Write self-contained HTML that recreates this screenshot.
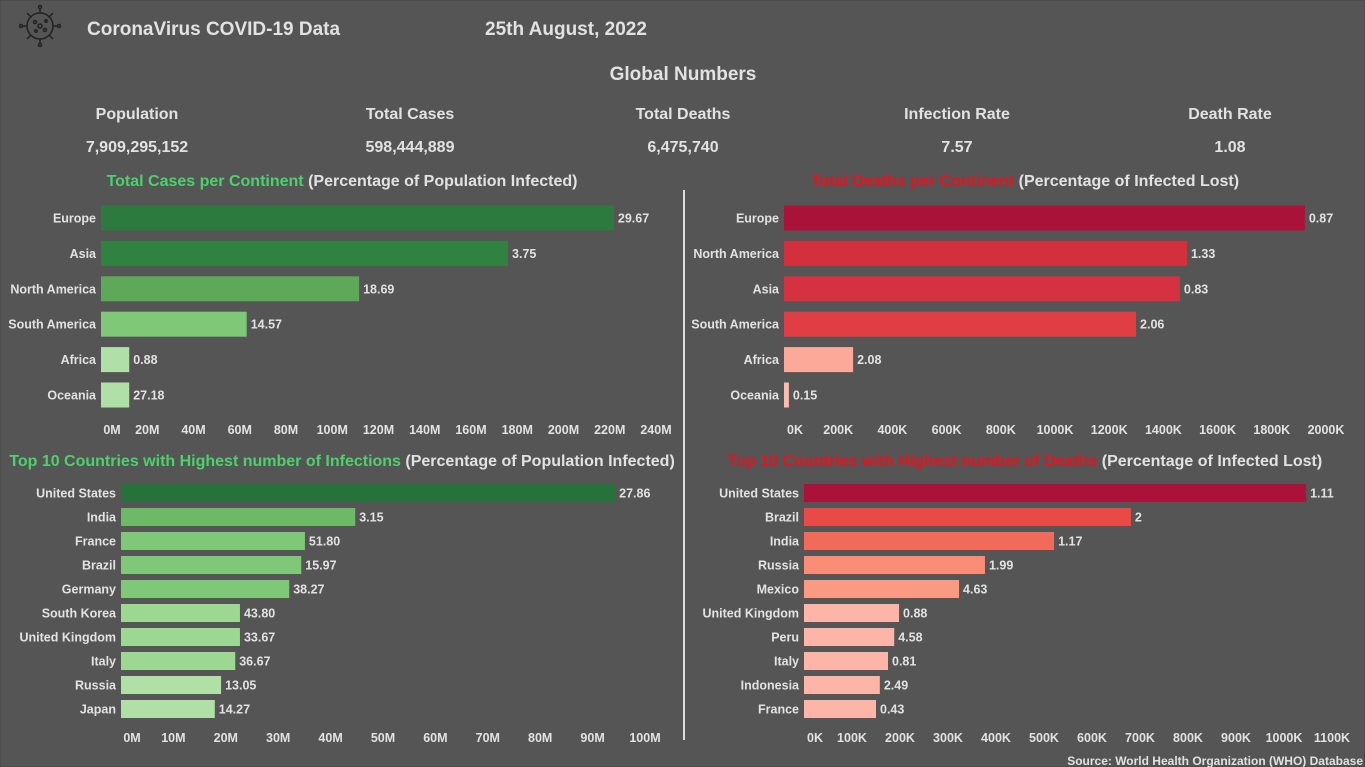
<!DOCTYPE html>
<html><head><meta charset="utf-8"><style>
html,body{margin:0;padding:0;background:#555;}
body{width:1365px;height:767px;overflow:hidden;font-family:"Liberation Sans",sans-serif;}
svg{display:block}
text{font-family:"Liberation Sans",sans-serif;font-weight:bold;fill:#e2e2e2}
</style></head><body>
<svg id="s" width="1365" height="767" xmlns="http://www.w3.org/2000/svg">
<rect x="0" y="0" width="1365" height="767" fill="#555" stroke="#444"/>
<g stroke="#222" fill="none" stroke-width="1.5">
<circle cx="40" cy="26" r="13"/><circle cx="40" cy="26" r="2"/><circle cx="35" cy="22" r="1.5"/><circle cx="45" cy="30" r="1.5"/><circle cx="36" cy="31" r="1.2"/><circle cx="46" cy="21" r="1.2"/>
<path d="M40 13v-5M40 39v5M27 26h-5M53 26h5M31 17l-4-4M49 35l4 4M49 17l4-4M31 35l-4 4"/>
<circle cx="40" cy="7" r="1.5"/><circle cx="40" cy="45" r="1.5"/><circle cx="21" cy="26" r="1.5"/><circle cx="59" cy="26" r="1.5"/>
</g>
<text x="87" y="35" font-size="19">CoronaVirus COVID-19 Data</text>
<text x="485" y="35" font-size="19">25th August, 2022</text>
<text x="683" y="80" font-size="19" text-anchor="middle">Global Numbers</text>
<g id="kpis"></g>
<line x1="684" y1="190" x2="684" y2="740" stroke="#ddd" stroke-width="2"/>
<text x="1363" y="765" font-size="12" text-anchor="end">Source: World Health Organization (WHO) Database</text>
<g id="charts"></g>
</svg>
<script>
const kpiLabels=["Population","Total Cases","Total Deaths","Infection Rate","Death Rate"];
const kpiValues=["7,909,295,152","598,444,889","6,475,740","7.57","1.08"];
const c1Cats=["Europe","Asia","North America","South America","Africa","Oceania"];
const c1Vals=[221.8,176,111.6,63,12.2,12.2];
const c1Labels=["29.67","3.75","18.69","14.57","0.88","27.18"];
const c1Ticks=[0,20,40,60,80,100,120,140,160,180,200,220,240];
const c2Cats=["Europe","North America","Asia","South America","Africa","Oceania"];
const c2Vals=[1922,1487,1461,1299,255,18];
const c2Labels=["0.87","1.33","0.83","2.06","2.08","0.15"];
const c2Ticks=[0,200,400,600,800,1000,1200,1400,1600,1800,2000];
const c3Cats=["United States","India","France","Brazil","Germany","South Korea","United Kingdom","Italy","Russia","Japan"];
const c3Vals=[94.3,44.7,35.1,34.4,32.1,22.7,22.7,21.8,19.1,17.9];
const c3Labels=["27.86","3.15","51.80","15.97","38.27","43.80","33.67","36.67","13.05","14.27"];
const c3Ticks=[0,10,20,30,40,50,60,70,80,90,100];
const c4Cats=["United States","Brazil","India","Russia","Mexico","United Kingdom","Peru","Italy","Indonesia","France"];
const c4Vals=[1046,681,521,377,323,198,188,175,158,150];
const c4Labels=["1.11","2","1.17","1.99","4.63","0.88","4.58","0.81","2.49","0.43"];
const c4Ticks=[0,100,200,300,400,500,600,700,800,900,1000,1100];

const NS="http://www.w3.org/2000/svg";
function el(p,tag,attrs,txt){const e=document.createElementNS(NS,tag);for(const k in attrs)e.setAttribute(k,attrs[k]);if(txt!==undefined)e.textContent=txt;p.appendChild(e);return e;}
const kp=document.getElementById('kpis');
const kx=[137,410,683,957,1230];
kpiLabels.forEach((l,i)=>{
 const a=el(kp,'text',{x:kx[i],y:119,'font-size':16,'text-anchor':'middle'},l);
 
 
 const b=el(kp,'text',{x:kx[i],y:152,'font-size':16,'text-anchor':'middle'},kpiValues[i]);
 
 
});
const root=document.getElementById('charts');
function chart(cfg){
 const g=el(root,'g',{});
 
 
 const t=el(g,'text',{x:cfg.titleX,y:cfg.titleY,'font-size':16,'text-anchor':'middle'});
 el(t,'tspan',{fill:cfg.titleColor,style:'fill:'+cfg.titleColor},cfg.title1);
 el(t,'tspan',{},cfg.title2);
 
 
 const sx=v=>cfg.x0+(v-cfg.d0)/(cfg.d1-cfg.d0)*(cfg.x1-cfg.x0);
 const sy=i=>cfg.y0+i*cfg.step;
 cfg.cats.forEach((c,i)=>{
  const y=sy(i);
  const l=el(g,'text',{x:cfg.x0-5,y:y+4.5,'font-size':12.5,'text-anchor':'end'},c);
  
  
  const w=Math.max(0,sx(cfg.vals[i])-sx(cfg.d0));
  const r=el(g,'rect',{x:sx(cfg.d0),y:y-cfg.bh/2,width:w,height:cfg.bh,fill:cfg.colors[i]});
  
  
  const v=el(g,'text',{x:sx(cfg.vals[i])+4,y:y+4.5,'font-size':12.5},cfg.labels[i]);
  
  
 });
 cfg.ticks.forEach((tk,i)=>{
  const x=sx(tk)+(i===0?11:0);
  const e=el(g,'text',{x:x,y:cfg.tickY,'font-size':12.5,'text-anchor':'middle'},tk+cfg.unit);
  
  
 });
}
chart({name:'cases-per-continent-chart',title1:'Total Cases per Continent ',title2:'(Percentage of Population Infected)',titleColor:'#4cd16c',titleX:342,titleY:186,
 cats:c1Cats,vals:c1Vals,labels:c1Labels,ticks:c1Ticks,unit:'M',x0:101,x1:656,d0:0,d1:240,y0:218,step:35.4,bh:25,tickY:434,
 colors:['#2d7a3e','#2f8240','#5ea85a','#7ec878','#b0e0a8','#b0e0a8']});
chart({name:'deaths-per-continent-chart',title1:'Total Deaths per Continent ',title2:'(Percentage of Infected Lost)',titleColor:'#e8121e',titleX:1025,titleY:186,
 cats:c2Cats,vals:c2Vals,labels:c2Labels,ticks:c2Ticks,unit:'K',x0:784,x1:1326,d0:0,d1:2000,y0:218,step:35.4,bh:25,tickY:434,
 colors:['#ab1239','#d32f3d','#d63140','#e03e44','#fca99a','#fcbcb0']});
chart({name:'top10-infections-chart',title1:'Top 10 Countries with Highest number of Infections ',title2:'(Percentage of Population Infected)',titleColor:'#4cd16c',titleX:342,titleY:466,
 cats:c3Cats,vals:c3Vals,labels:c3Labels,ticks:c3Ticks,unit:'M',x0:121,x1:645,d0:0,d1:100,y0:493,step:24,bh:18,tickY:742,
 colors:['#27723a','#6cb966','#7fc878','#7fc878','#7fc878','#9dd892','#9dd892','#9dd892','#b0e0a6','#b0e0a6']});
chart({name:'top10-deaths-chart',title1:'Top 10 Countries with Highest number of Deaths ',title2:'(Percentage of Infected Lost)',titleColor:'#e8121e',titleX:1025,titleY:466,
 cats:c4Cats,vals:c4Vals,labels:c4Labels,ticks:c4Ticks,unit:'K',x0:804,x1:1332,d0:0,d1:1100,y0:493,step:24,bh:18,tickY:742,
 colors:['#ab1239','#ea4a45','#f26b5a','#fb8c75','#fb9a82','#fcb5a6','#fcb5a6','#fcb5a6','#fcb5a6','#fcb5a6']});
</script>
</body></html>
